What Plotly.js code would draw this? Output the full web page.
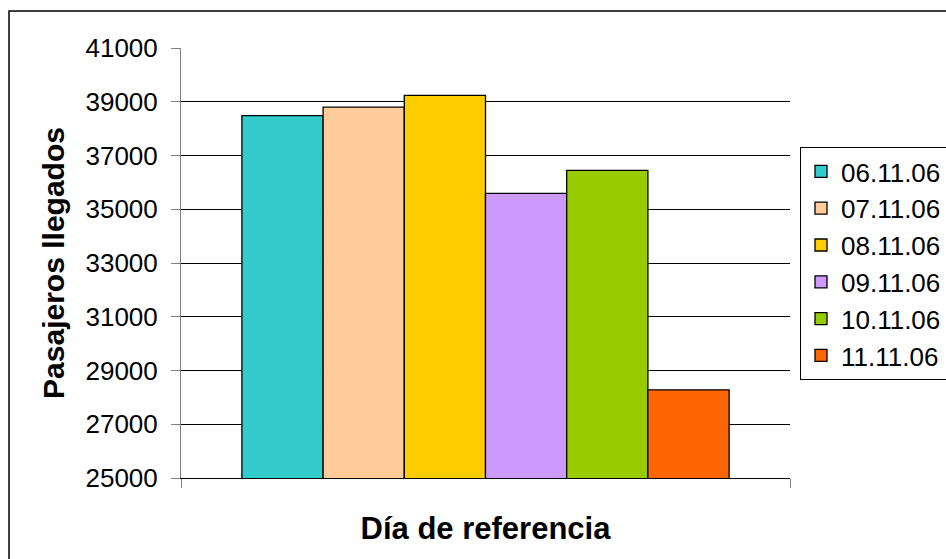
<!DOCTYPE html>
<html>
<head>
<meta charset="utf-8">
<script src="https://cdn.plot.ly/plotly-3.0.1.min.js"></script>
<style>
  html, body { margin: 0; padding: 0; background: #ffffff; }
  #chart { width: 946px; height: 559px; }
</style>
</head>
<body>
<div id="chart"></div>
<script>
const seriesNames = ["06.11.06", "07.11.06", "08.11.06", "09.11.06", "10.11.06", "11.11.06"];
const seriesValues = [38480, 38800, 39240, 35590, 36450, 28280];
const seriesColors = ["#33CCCC", "#FFCC99", "#FFCC00", "#CC99FF", "#99CC00", "#FF6600"];
const category = [""];
const yTickValues = [25000, 27000, 29000, 31000, 33000, 35000, 37000, 39000, 41000];

const FONT = "Arial, 'Liberation Sans', sans-serif";

const traces = seriesNames.map((name, i) => ({
  type: "bar",
  name: name,
  x: category,
  y: [seriesValues[i]],
  marker: { color: seriesColors[i], line: { color: "#000000", width: 1.3 } },
  hoverinfo: "name+y"
}));

const layout = {
  width: 946,
  height: 559,
  margin: { l: 181, r: 156, t: 48, b: 81, autoexpand: false },
  paper_bgcolor: "#ffffff",
  plot_bgcolor: "#ffffff",
  font: { family: FONT, color: "#000000", size: 26 },
  barmode: "group",
  bargap: 0.2,
  bargroupgap: 0,
  showlegend: true,
  legend: {
    x: (800 - 181) / 609,
    xanchor: "left",
    y: (478 - 147) / 430,
    yanchor: "top",
    bordercolor: "#000000",
    borderwidth: 1,
    bgcolor: "#ffffff",
    font: { family: FONT, size: 26, color: "#000000" },
    traceorder: "normal"
  },
  xaxis: {
    type: "category",
    showticklabels: false,
    ticks: "outside",
    tickson: "boundaries",
    ticklen: 9,
    tickcolor: "#808080",
    showline: true,
    linecolor: "#000000",
    linewidth: 1,
    showgrid: false,
    zeroline: false,
    fixedrange: true,
    title: { text: "Día de referencia", font: { family: FONT, size: 31, color: "#000000", weight: "bold" }, standoff: 39 }
  },
  yaxis: {
    range: [25000, 41000],
    tickvals: yTickValues,
    ticktext: yTickValues.map(v => String(v)),
    ticks: "outside",
    ticklen: 9,
    tickcolor: "#808080",
    ticklabelstandoff: 8,
    showline: true,
    linecolor: "#808080",
    linewidth: 1,
    showgrid: true,
    gridcolor: "#000000",
    gridwidth: 1,
    zeroline: false,
    fixedrange: true,
    tickfont: { family: FONT, size: 26, color: "#000000" },
    title: { text: "Pasajeros llegados", font: { family: FONT, size: 30, color: "#000000", weight: "bold" }, standoff: 11 }
  },
  shapes: [
    {
      type: "rect", xref: "paper", yref: "paper",
      x0: (9 - 181) / 609, x1: (960 - 181) / 609,
      y0: (478 - 570) / 430, y1: (478 - 11) / 430,
      line: { color: "#000000", width: 1.5 }, fillcolor: "rgba(0,0,0,0)", layer: "below"
    }
  ]
};

Plotly.newPlot("chart", traces, layout, { displayModeBar: false });
</script>
</body>
</html>
